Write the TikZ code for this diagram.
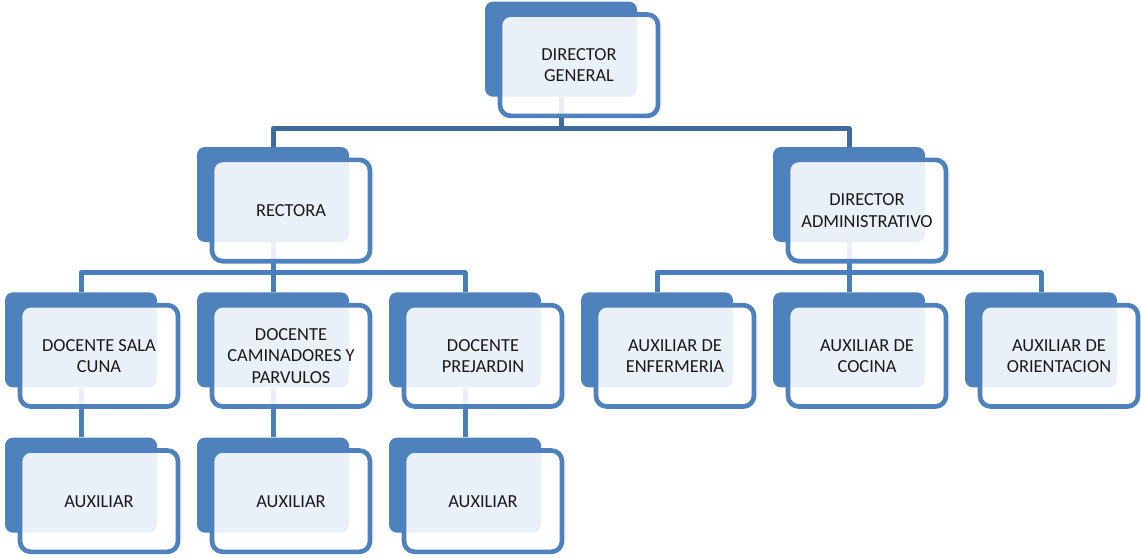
\documentclass[tikz,border=0pt]{standalone}
\usepackage{fontspec}
\setmainfont{Carlito}
\usetikzlibrary{positioning}

\pgfdeclarelayer{background}
\pgfsetlayers{background,main}

\definecolor{boxblue}{HTML}{4F81BD}
\definecolor{linkdark}{HTML}{3F6B9F}
\definecolor{linkblue}{HTML}{4A7EBB}

\begin{document}
\begin{tikzpicture}[x=0.75pt,y=-0.75pt,on grid,node distance=109pt and 144pt,
                    back/.style={fill=boxblue,rounded corners=6pt,inner sep=0pt,
                                 minimum width=114pt,minimum height=71.25pt},
                    front/.style={draw=boxblue,line width=3.5pt,rounded corners=8pt,
                                  fill=white,fill opacity=0.886,text opacity=1,
                                  text=black!90,align=center,inner sep=0pt,
                                  font=\fontsize{13.8}{16}\selectfont,
                                  minimum width=118.5pt,minimum height=76pt},
                    link/.style={draw=linkblue,line width=3.75pt,line join=round}]

  \useasboundingbox (0,0) rectangle (1141,557);

  % dark blocks behind each box
  \node[back] (rec)              at (273,194.5) {};
  \node[back] (dg)  [above right=109pt and 216pt of rec] {};
  \node[back] (sc)  [below left=of rec] {};
  \node[back] (cam) [right=of sc]  {};
  \node[back] (pre) [right=of cam] {};
  \node[back] (enf) [right=of pre] {};
  \node[back] (coc) [right=of enf] {};
  \node[back] (ori) [right=of coc] {};
  \node[back] (adm) [above=of coc] {};
  \node[back] (a1)  [below=of sc]  {};
  \node[back] (a2)  [below=of cam] {};
  \node[back] (a3)  [below=of pre] {};

  % framed boxes with the titles
  \node[front] (dg-t)  [below right=12pt and 13.5pt of dg]  {DIRECTOR\\GENERAL};
  \node[front] (rec-t) [below right=12pt and 13.5pt of rec] {RECTORA};
  \node[front] (adm-t) [below right=12pt and 13.5pt of adm] {DIRECTOR\\ADMINISTRATIVO};
  \node[front] (sc-t)  [below right=12pt and 13.5pt of sc]  {DOCENTE SALA\\CUNA};
  \node[front] (cam-t) [below right=12pt and 13.5pt of cam] {DOCENTE\\CAMINADORES Y\\PARVULOS};
  \node[front] (pre-t) [below right=12pt and 13.5pt of pre] {DOCENTE\\PREJARDIN};
  \node[front] (enf-t) [below right=12pt and 13.5pt of enf] {AUXILIAR DE\\ENFERMERIA};
  \node[front] (coc-t) [below right=12pt and 13.5pt of coc] {AUXILIAR DE\\COCINA};
  \node[front] (ori-t) [below right=12pt and 13.5pt of ori] {AUXILIAR DE\\ORIENTACION};
  \node[front] (a1-t)  [below right=12pt and 13.5pt of a1]  {AUXILIAR};
  \node[front] (a2-t)  [below right=12pt and 13.5pt of a2]  {AUXILIAR};
  \node[front] (a3-t)  [below right=12pt and 13.5pt of a3]  {AUXILIAR};

  \begin{pgfonlayer}{background}
    \draw[link,draw=linkdark] (dg.south) -- ++(0,-24pt) -| (rec.north);
    \draw[link,draw=linkdark] (dg.south) -- ++(0,-24pt) -| (adm.north);

    \draw[link] (rec.south) -- ++(0,-23pt) -| (sc.north);
    \draw[link] (rec.south) -- (cam.north);
    \draw[link] (rec.south) -- ++(0,-23pt) -| (pre.north);

    \draw[link] (adm.south) -- ++(0,-23pt) -| (enf.north);
    \draw[link] (adm.south) -- (coc.north);
    \draw[link] (adm.south) -- ++(0,-23pt) -| (ori.north);

    \draw[link] (sc)  -- (a1);
    \draw[link] (cam) -- (a2);
    \draw[link] (pre) -- (a3);
  \end{pgfonlayer}
\end{tikzpicture}
\end{document}
